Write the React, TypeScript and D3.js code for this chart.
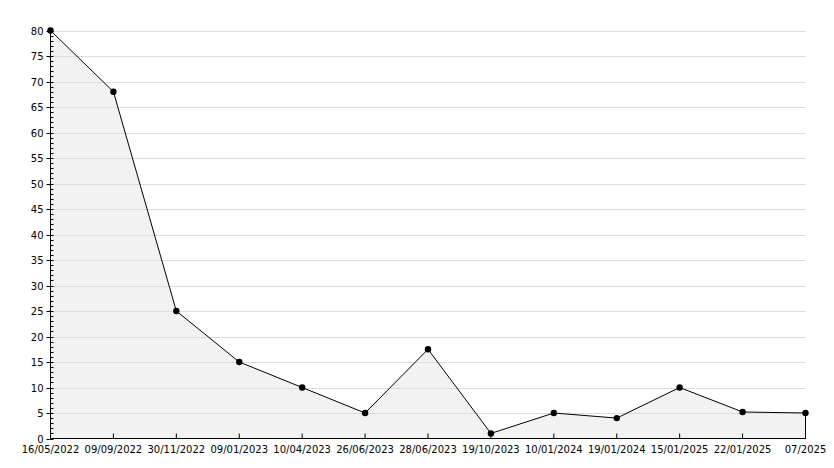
import * as d3 from "d3";

const dates = [
  "16/05/2022", "09/09/2022", "30/11/2022", "09/01/2023", "10/04/2023",
  "26/06/2023", "28/06/2023", "19/10/2023", "10/01/2024", "19/01/2024",
  "15/01/2025", "22/01/2025", "07/2025",
];
const values = [80, 68, 25, 15, 10, 5, 17.5, 1, 5, 4, 10, 5.2, 5];
const yTicks = d3.range(0, 81, 5);

const App: React.FC = () => {
  const width = 834;
  const height = 468;
  const left = 50.5;
  const right = 805.5;
  const top = 30.5;
  const bottom = 438.5;

  const x = d3.scalePoint<number>().domain(d3.range(dates.length)).range([left, right]);
  const y = d3.scaleLinear([0, 80], [bottom, top]);

  const line = d3.line<number>((_, i) => x(i)!, (d) => y(d));
  const area = d3.area<number>((_, i) => x(i)!, y(0), (d) => y(d));
  const minor = d3.range(0, 81, 1);

  return (
    <svg width={width} height={height} style={{ position: "absolute", left: 0, top: 0, background: "#fff" }}
      fontFamily="DejaVu Sans, sans-serif" fontSize={10}>
      <path d={area(values) ?? undefined} fill="#f2f2f2" />
      <g stroke="#dcdcdc" strokeWidth={1}>
        {yTicks.filter((t) => t > 0).map((t) => (
          <line key={t} x1={left} x2={right} y1={Math.round(y(t)) + 0.5} y2={Math.round(y(t)) + 0.5} />
        ))}
      </g>
      <path d={line(values) ?? undefined} fill="none" stroke="#000" strokeWidth={1} />
      <line x1={right} x2={right} y1={y(values[values.length - 1])} y2={bottom} stroke="#000" />
      <g stroke="#000" strokeWidth={1}>
        <line x1={left} x2={left} y1={top} y2={bottom} />
        <line x1={left} x2={right} y1={bottom} y2={bottom} />
        {minor.map((t) => (
          <line key={t} x1={left} x2={left + 3} y1={Math.round(y(t)) + 0.5} y2={Math.round(y(t)) + 0.5} />
        ))}
        {yTicks.map((t) => (
          <line key={t} x1={left - 4} x2={left} y1={Math.round(y(t)) + 0.5} y2={Math.round(y(t)) + 0.5} />
        ))}
        {dates.map((_, i) => (
          <line key={i} x1={x(i)} x2={x(i)} y1={bottom - 5} y2={bottom} />
        ))}
      </g>
      <g fill="#000" textAnchor="end">
        {yTicks.map((t) => (
          <text key={t} x={left - 7} y={y(t) + 4}>{t}</text>
        ))}
      </g>
      <g fill="#000" textAnchor="middle">
        {dates.map((d, i) => (
          <text key={i} x={x(i)} y={453}>{d}</text>
        ))}
      </g>
      <g fill="#000">
        {values.map((v, i) => (
          <circle key={i} cx={x(i)} cy={y(v)} r={3.2} />
        ))}
      </g>
    </svg>
  );
};

export default App;
